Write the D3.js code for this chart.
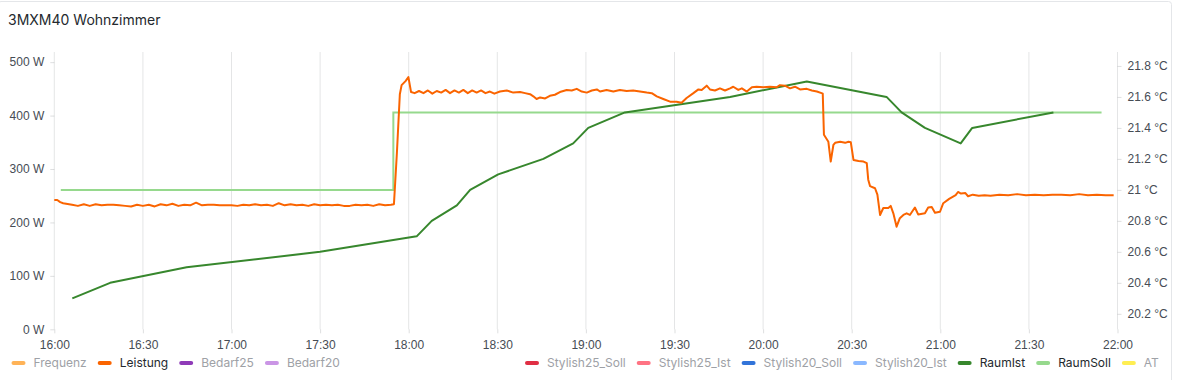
<!DOCTYPE html>
<html lang="de">
<head>
<meta charset="utf-8">
<title>3MXM40 Wohnzimmer</title>
<script src="https://d3js.org/d3.v7.min.js"></script>
<style>
  body { margin: 0; background: #fff; }
  svg { font-family: Inter, "Noto Sans", sans-serif; }
  .tick text { font-size: 12px; fill: #464c54; }
  .tick line { stroke: rgba(36, 41, 46, 0.15); }
  .domain { display: none; }
</style>
</head>
<body>
<div id="chart"></div>
<script>
// times are minutes after 16:00
const leistung = [
  [0,242],[1,242],[2,238],[3,236],[4,235],[6,233],[8,231],[10,234],[12,231],[14,234],
  [16,232],[18,233],[20,233],[22,232],[24,231],[26,230],[28,233],[30,231],[32,233],[34,230],
  [36,234],[38,232],[40,235],[42,231],[44,233],[46,232],[48,237],[50,232],[52,233],[54,233],
  [56,232],[58,232],[60,232],[62,231],[64,233],[66,232],[68,234],[70,232],[72,233],[74,231],
  [76,236],[78,232],[80,234],[82,232],[84,233],[86,231],[88,234],[90,232],[92,233],[94,232],
  [96,233],[98,231],[100,231],[102,233],[104,232],[106,233],[108,231],[110,234],[112,232],[114,233],
  [115,234],[116,330],[117,440],[117.6,457],[119,465],[119.9,472],[120.8,444],
  [122,442],[123.5,446],[125,442],[126.5,447],[128,441],[129.5,446],[131,443],[132.5,448],
  [134,442],[135.5,447],[137,443],[138.5,448],[140,442],[141.5,447],[143,443],[144.5,447],
  [146,442],[147.5,445],[149,441],[150.9,445],[153.2,447],[155.4,443],[157.7,444],[159.4,442],
  [161.1,440],[162.2,436],[163.3,431],[164.5,434],[166.2,432],[167.8,437],[169.5,439],[171.2,444],
  [173.5,448],[175.2,447],[176.9,450],[178.6,445],[180.3,443],[182,447],[183.7,449],[184.8,445],
  [187,448],[189.3,445],[191.5,448],[193.8,446],[196,447],[198.3,445],[200.6,443],[202.3,442],
  [204,436],[206.2,431],[208.5,426],[210.7,426],[212.4,424],[214.1,433],[216.4,442],[218.1,449],
  [219.2,448],[220.9,456],[222,449],[223.7,447],[225.4,451],[227.1,447],[228.8,451],[229.9,454],
  [231.6,448],[232.8,451],[234.5,445],[236.2,453],[237.8,454],[240.1,453],[242.3,454],[244.6,453],
  [245.7,457],[247.4,456],[249.1,451],[250.8,454],[252.5,449],[254.8,450],[256.5,447],[258.2,445],
  [259.8,442],[260.2,441],[260.6,364],[261.3,358],[262.1,351],[262.9,314],[263.8,345],[264.4,349],
  [266.1,351],[267.8,349],[268.9,351],[269.7,350],[270.6,317],[272.3,315],[274,314],[275.1,311],
  [275.6,280],[276.2,268],[277.9,264],[278.7,252],[279.6,214],[280.7,227],[282.4,227],[283.2,231],
  [284.1,217],[285.2,192],[286.3,208],[287.5,214],[288.6,217],[289.7,214],[291.4,228],[292.5,215],
  [294.8,217],[295.9,228],[297.1,229],[298.2,218],[299.9,220],[301,236],[303,244],[305.2,251],
  [306,257],[307,254],[308.5,255],[309.4,249],[311,252],[313,250],[315,251],[317,250],
  [320,252],[323,251],[326,253],[329,251],[332,252],[335,251],[338,252],[341,252],
  [344,251],[347,253],[350,251],[353,252],[356,251],[358.7,251]
];
const raumIst = [
  [6.1,20.3],[18.9,20.4],[44.8,20.5],[90,20.6],[122.7,20.7],[127.8,20.8],[136.3,20.9],
  [140.8,21.0],[150.3,21.1],[165.6,21.2],[175.7,21.3],[180.8,21.4],[193.2,21.5],[228.8,21.6],
  [254.8,21.7],[281.8,21.6],[286.9,21.5],[294.8,21.4],[306.9,21.3],[310.8,21.4],[338.3,21.5]
];
const raumSoll = [[2.2,21.0],[114.8,21.5],[354.6,21.5]];

const wattTicks = [0, 100, 200, 300, 400, 500];
const tempTicks = [20.2, 20.4, 20.6, 20.8, 21, 21.2, 21.4, 21.6, 21.8];
const tempLabels = ["20.2 °C","20.4 °C","20.6 °C","20.8 °C","21 °C","21.2 °C","21.4 °C","21.6 °C","21.8 °C"];

const legendLeft = [
  {name: "Frequenz", color: "#FFB357", on: false},
  {name: "Leistung", color: "#FA6400", on: true},
  {name: "Bedarf25", color: "#8F3BB8", on: false},
  {name: "Bedarf20", color: "#CA95E5", on: false}
];
const legendRight = [
  {name: "Stylish25_Soll", color: "#E02F44", on: false},
  {name: "Stylish25_Ist", color: "#FF7383", on: false},
  {name: "Stylish20_Soll", color: "#3274D9", on: false},
  {name: "Stylish20_Ist", color: "#8AB8FF", on: false},
  {name: "RaumIst", color: "#37872D", on: true},
  {name: "RaumSoll", color: "#96D98D", on: true},
  {name: "AT", color: "#FFEE52", on: false}
];

const width = 1178, height = 380;
const plotLeft = 54.3, plotRight = 1117.5, plotTop = 52, plotBottom = 329.3;

const base = new Date(2024, 0, 1, 16, 0);
const toDate = m => new Date(base.getTime() + m * 60000);

const svg = d3.select("#chart").append("svg")
  .attr("width", width).attr("height", height);

// panel border
svg.append("rect")
  .attr("x", -2).attr("y", 1.5).attr("width", 1173.5).attr("height", 400)
  .attr("rx", 3).attr("fill", "none").attr("stroke", "#e4e6e9");

svg.append("text")
  .attr("x", 8).attr("y", 25)
  .attr("font-size", 14).attr("font-weight", 400).attr("fill", "#24292e")
  .text("3MXM40 Wohnzimmer");

const x = d3.scaleTime()
  .domain([toDate(0), toDate(360)])
  .range([plotLeft, plotRight]);
const yW = d3.scaleLinear().domain([0, 519]).range([plotBottom, plotTop]);
const yT = d3.scaleLinear().domain([20.1, 21.89]).range([plotBottom, plotTop]);

const timeTicks = d3.timeMinute.every(30).range(toDate(0), toDate(361));

// vertical grid
svg.append("g")
  .selectAll("line")
  .data(timeTicks)
  .enter().append("line")
  .attr("x1", d => x(d)).attr("x2", d => x(d))
  .attr("y1", plotTop).attr("y2", plotBottom)
  .attr("stroke", "rgba(36,41,46,0.12)");

svg.append("g")
  .attr("transform", `translate(0,${plotBottom})`)
  .call(d3.axisBottom(x).tickValues(timeTicks).tickFormat(d3.timeFormat("%H:%M"))
    .tickSize(4).tickPadding(7));

svg.append("g")
  .attr("transform", `translate(${plotLeft},0)`)
  .call(d3.axisLeft(yW).tickValues(wattTicks).tickFormat(d => d + " W")
    .tickSize(4).tickPadding(6));

svg.append("g")
  .attr("transform", `translate(${plotRight},0)`)
  .call(d3.axisRight(yT).tickValues(tempTicks).tickFormat((d, i) => tempLabels[i])
    .tickSize(4).tickPadding(6));

const lineSoll = d3.line()
  .x(d => x(toDate(d[0]))).y(d => yT(d[1]))
  .curve(d3.curveStepAfter);
const lineIst = d3.line()
  .x(d => x(toDate(d[0]))).y(d => yT(d[1]));
const lineW = d3.line()
  .x(d => x(toDate(d[0]))).y(d => yW(d[1]));

svg.append("path").datum(raumSoll)
  .attr("d", lineSoll).attr("fill", "none")
  .attr("stroke", "#96D98D").attr("stroke-width", 2);

svg.append("path").datum(raumIst)
  .attr("d", lineIst).attr("fill", "none")
  .attr("stroke", "#37872D").attr("stroke-width", 2).attr("stroke-linejoin", "round");

svg.append("path").datum(leistung)
  .attr("d", lineW).attr("fill", "none")
  .attr("stroke", "#FA6400").attr("stroke-width", 2).attr("stroke-linejoin", "round");

// legend
function drawLegend(items, startX) {
  let cx = startX;
  items.forEach(it => {
    const g = svg.append("g").attr("transform", `translate(${cx},363)`);
    g.append("rect").attr("x", 0).attr("y", -2).attr("width", 14).attr("height", 4)
      .attr("rx", 2).attr("fill", it.color);
    const t = g.append("text").attr("x", 22).attr("dy", "0.35em")
      .attr("font-size", 12).attr("fill", it.on ? "#24292e" : "#9ea1a6")
      .text(it.name);
    cx += 22 + t.node().getComputedTextLength() + 11;
  });
}
drawLegend(legendLeft, 11.5);
drawLegend(legendRight, 525);
</script>
</body>
</html>
